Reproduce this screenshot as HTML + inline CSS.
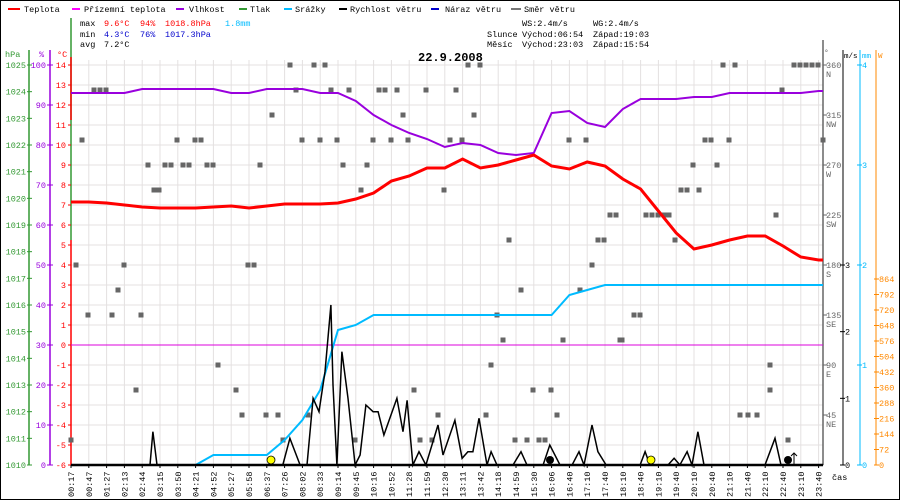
<!DOCTYPE html>
<html><head><meta charset="utf-8">
<style>
html,body{margin:0;padding:0;background:#fff;}
svg{display:block;font-family:"Liberation Mono","DejaVu Sans Mono",monospace;}
</style></head>
<body>
<svg id="chart" width="900" height="500" viewBox="0 0 900 500" xmlns="http://www.w3.org/2000/svg">
<rect x="0.5" y="0.5" width="899" height="499" fill="#fff" stroke="#000"/>
<g id="grid"></g>
<g id="legend" font-size="8.5">
 <line x1="8" y1="9" x2="20" y2="9" stroke="#f00" stroke-width="2"/><text x="24" y="12">Teplota</text>
 <line x1="72" y1="9" x2="80" y2="9" stroke="#f0f" stroke-width="2"/><text x="84" y="12">Přízemní teplota</text>
 <line x1="176" y1="9" x2="184" y2="9" stroke="#90d" stroke-width="2"/><text x="189" y="12">Vlhkost</text>
 <line x1="239" y1="9" x2="247" y2="9" stroke="#393" stroke-width="2"/><text x="250" y="12">Tlak</text>
 <line x1="284" y1="9" x2="292" y2="9" stroke="#0bf" stroke-width="2"/><text x="295" y="12">Srážky</text>
 <line x1="339" y1="9" x2="347" y2="9" stroke="#000" stroke-width="2"/><text x="350" y="12">Rychlost větru</text>
 <line x1="431" y1="9" x2="439" y2="9" stroke="#00c" stroke-width="2"/><text x="445" y="12">Náraz větru</text>
 <line x1="511" y1="9" x2="521" y2="9" stroke="#777" stroke-width="2"/><text x="524" y="12">Směr větru</text>
</g>
<g id="stats" font-size="8.5">
 <text x="80" y="26">max</text><text x="104" y="26" fill="#f00">9.6°C</text><text x="140" y="26" fill="#f00">94%</text><text x="165" y="26" fill="#f00">1018.8hPa</text><text x="225" y="26" fill="#0bf">1.8mm</text>
 <text x="80" y="37">min</text><text x="104" y="37" fill="#00c">4.3°C</text><text x="140" y="37" fill="#00c">76%</text><text x="165" y="37" fill="#00c">1017.3hPa</text>
 <text x="80" y="47">avg</text><text x="104" y="47">7.2°C</text>
 <text x="522" y="26">WS:2.4m/s</text><text x="593" y="26">WG:2.4m/s</text>
 <text x="487" y="37">Slunce</text><text x="522" y="37">Východ:06:54</text><text x="593" y="37">Západ:19:03</text>
 <text x="487" y="47">Měsíc</text><text x="522" y="47">Východ:23:03</text><text x="593" y="47">Západ:15:54</text>
</g>
<text x="418" y="61" font-size="12" font-weight="bold">22.9.2008</text>
<g id="axes"></g>
<g id="series"></g>
<g id="xlabels" font-size="8.5"></g>
</svg>
<script>
const timeLabels=["00:17","00:47","01:27","02:13","02:44","03:15","03:50","04:21","04:52","05:27","05:58","06:37","07:26","08:02","08:33","09:14","09:45","10:16","10:52","11:28","11:59","12:30","13:11","13:42","14:18","14:59","15:30","16:06","16:40","17:10","17:40","18:10","18:40","19:10","19:40","20:10","20:40","21:10","21:40","22:10","22:40","23:10","23:40"];
const temperature=[7.15,7.15,7.1,7.0,6.9,6.85,6.85,6.85,6.9,6.95,6.85,6.95,7.05,7.05,7.05,7.1,7.3,7.6,8.2,8.45,8.85,8.85,9.3,8.85,9.0,9.25,9.5,8.95,8.8,9.15,8.95,8.3,7.8,6.7,5.6,4.8,5.0,5.25,5.45,5.45,4.95,4.4,4.25];
const humidity=[93,93,93,93,94,94,94,94,94,93,93,94,94,94,93,93,91,87.5,85,83,81.5,79.5,80.5,80,78,77.5,78,88,88.5,85.5,84.5,89,91.5,91.5,91.5,92,92,93,93,93,93,93,93.5];
const precipitation=[0,0,0,0,0,0,0,0,0.1,0.1,0.1,0.1,0.25,0.45,0.75,1.35,1.4,1.5,1.5,1.5,1.5,1.5,1.5,1.5,1.5,1.5,1.5,1.5,1.7,1.75,1.8,1.8,1.8,1.8,1.8,1.8,1.8,1.8,1.8,1.8,1.8,1.8,1.8];
const windTime=[0,4.44,4.6,4.83,11.9,12.3,12.87,13.26,13.6,13.93,14.27,14.6,14.72,14.94,15.22,15.56,15.96,16.24,16.57,16.97,17.25,17.58,18.31,18.65,18.88,19.21,19.55,19.94,20.62,20.9,21.57,21.97,22.3,22.58,22.92,23.37,23.6,23.93,24.83,25.28,25.62,26.52,26.9,27.47,28.15,28.54,28.82,29.27,29.6,30.06,31.97,32.25,32.53,33.54,33.88,34.21,34.61,34.89,35.22,35.56,38.99,39.55,39.89,42.25];
const windSpeed=[0,0,0.5,0,0,0.4,0,0,1.0,0.8,1.4,2.4,1.2,0,1.7,1.0,0,0.15,0.9,0.8,0.8,0.45,1.0,0.5,0.97,0,0.2,0,0.6,0.15,0.67,0.1,0.2,0.2,0.7,0,0.2,0,0,0.2,0,0,0.3,0,0,0.2,0,0.6,0.2,0,0,0.2,0,0,0.1,0,0.2,0,0.5,0,0,0.4,0,0];
const dirX=[76,82,94,100,106,118,124,148,154,159,165,171,177,183,189,195,201,207,213,248,254,260,272,290,296,302,314,325,320,331,337,343,349,361,367,373,379,385,391,397,403,408,426,444,450,456,462,468,480,474,71,88,112,141,136,218,236,242,266,278,283,308,355,414,420,432,438,486,491,497,503,515,527,539,545,533,551,557,509,521,563,569,580,586,592,598,604,610,616,622,634,640,646,652,658,664,669,675,681,687,693,699,705,711,717,723,729,735,776,782,788,794,800,806,812,818,823,620,740,748,757,770,770];
const dirDeg=[180,292.5,337.5,337.5,337.5,157.5,180,270,247.5,247.5,270,270,292.5,270,270,292.5,292.5,270,270,180,180,270,315,360,337.5,292.5,360,360,292.5,337.5,292.5,270,337.5,247.5,270,292.5,337.5,337.5,292.5,337.5,315,292.5,337.5,247.5,292.5,337.5,292.5,360,360,315,22.5,135,135,135,67.5,90,67.5,45,45,45,22.5,45,22.5,67.5,22.5,22.5,45,45,90,135,112.5,22.5,22.5,22.5,22.5,67.5,67.5,45,202.5,157.5,112.5,292.5,157.5,292.5,180,202.5,202.5,225,225,112.5,135,135,225,225,225,225,225,202.5,247.5,247.5,270,247.5,292.5,292.5,270,360,292.5,360,225,337.5,22.5,360,360,360,360,360,292.5,112.5,45,45,45,67.5,90];
const hpaTicks=[1025,1024,1023,1022,1021,1020,1019,1018,1017,1016,1015,1014,1013,1012,1011,1010];
const pctTicks=[100,90,80,70,60,50,40,30,20,10,0];
const degTicks=[[360,"N"],[315,"NW"],[270,"W"],[225,"SW"],[180,"S"],[135,"SE"],[90,"E"],[45,"NE"]];
const wattTicks=[864,792,720,648,576,504,432,360,288,216,144,72,0];

const NS="http://www.w3.org/2000/svg";
const X0=71,STEP=17.8,YT=65,YB=465;
const xs=u=>X0+u*STEP;
const yT=t=>345-20*t;
const yH=h=>YB-(h/100)*400;
const yP=p=>YB+(YT-YB)*(p-1010)/15;
const yMM=m=>YB-100*m;
const yWS=v=>YB-66.67*v;
const yDeg=d=>YB-d/360*400;
const yW=w=>YB-w*(186/864);
function mk(tag,attrs,parent,txt){const e=document.createElementNS(NS,tag);for(const k in attrs)e.setAttribute(k,attrs[k]);if(txt!==undefined)e.textContent=txt;parent.appendChild(e);return e;}

const grid=document.getElementById('grid');
for(let t=-6;t<=14;t++){mk('line',{x1:X0,x2:823,y1:yT(t),y2:yT(t),stroke:'#e4e0e0'},grid);}
for(let i=0;i<timeLabels.length;i++){mk('line',{x1:xs(i),x2:xs(i),y1:YT-5,y2:YB,stroke:'#e4e0e0'},grid);}

const axes=document.getElementById('axes');
mk('line',{x1:29,x2:29,y1:50,y2:YB,stroke:'#393','stroke-width':1.5},axes);
mk('line',{x1:50,x2:50,y1:50,y2:YB,stroke:'#90d','stroke-width':1.5},axes);
mk('line',{x1:71,x2:71,y1:18,y2:240,stroke:'#393','stroke-width':1.5},axes);
mk('line',{x1:71,x2:71,y1:57,y2:120,stroke:'#f00','stroke-width':1.5},axes);
mk('line',{x1:71,x2:71,y1:240,y2:YB,stroke:'#f00','stroke-width':1.5},axes);
mk('text',{x:5,y:57,fill:'#393','font-size':8.5},axes,'hPa');
mk('text',{x:39,y:57,fill:'#90d','font-size':8.5},axes,'%');
mk('text',{x:57,y:57,fill:'#f00','font-size':8.5},axes,'°C');
hpaTicks.forEach(p=>{const y=yP(p);mk('line',{x1:27,x2:32,y1:y,y2:y,stroke:'#393'},axes);const t=mk('text',{x:26,y:y+3,fill:'#393','font-size':8.5,'text-anchor':'end'},axes,p);

});
pctTicks.forEach(p=>{const y=yH(p);mk('line',{x1:47,x2:53,y1:y,y2:y,stroke:'#90d'},axes);const t=mk('text',{x:46,y:y+3,fill:'#90d','font-size':8.5,'text-anchor':'end'},axes,p);

});
for(let c=-6;c<=14;c++){const y=yT(c);mk('line',{x1:68,x2:71,y1:y,y2:y,stroke:'#f00'},axes);const t=mk('text',{x:66,y:y+3,fill:'#f00','font-size':8.5,'text-anchor':'end'},axes,c);

}
mk('line',{x1:823,x2:823,y1:40,y2:YB,stroke:'#666','stroke-width':1.5},axes);
mk('line',{x1:843,x2:843,y1:50,y2:YB,stroke:'#000','stroke-width':1},axes);
mk('line',{x1:860,x2:860,y1:50,y2:YB,stroke:'#0bf','stroke-width':1},axes);
mk('line',{x1:876,x2:876,y1:50,y2:YB,stroke:'#f80','stroke-width':1},axes);
mk('text',{x:824,y:55,fill:'#666','font-size':8},axes,'°');
mk('text',{x:844,y:58,'font-size':7.5},axes,'m/s');
mk('text',{x:862,y:58,fill:'#0bf','font-size':7.5},axes,'mm');
mk('text',{x:878,y:58,fill:'#f80','font-size':7.5},axes,'W');
degTicks.forEach(d=>{const y=yDeg(d[0]);mk('line',{x1:823,x2:827,y1:y,y2:y,stroke:'#666'},axes);
const t=mk('text',{x:826,y:y+3,fill:'#666','font-size':8.5},axes,d[0]);


mk('text',{x:826,y:y+12,fill:'#666','font-size':8.5},axes,d[1]);});
[0,1,2,3].forEach(v=>{const y=yWS(v);mk('line',{x1:840,x2:845,y1:y,y2:y,stroke:'#000'},axes);const t=mk('text',{x:845,y:y+3,'font-size':8.5},axes,v);

});
[0,1,2,3,4].forEach(v=>{const y=yMM(v);mk('line',{x1:857,x2:862,y1:y,y2:y,stroke:'#0bf'},axes);const t=mk('text',{x:862,y:y+3,fill:'#0bf','font-size':8.5},axes,v);

});
wattTicks.forEach(v=>{const y=yW(v);mk('line',{x1:874,x2:879,y1:y,y2:y,stroke:'#f80'},axes);const t=mk('text',{x:879,y:y+3,fill:'#f80','font-size':8.5},axes,v);

});
mk('text',{x:832,y:480,'font-size':8.5},axes,'čas');

const ser=document.getElementById('series');
const g0=mk('line',{x1:X0,x2:823,y1:yT(0),y2:yT(0),stroke:'#d0d','stroke-width':1},ser);


dirX.forEach((x,i)=>{const r=mk('rect',{x:x-2.5,y:yDeg(dirDeg[i])-2.5,width:5,height:5,fill:'#666'},ser);

});
function poly(vals,yf,pos){return vals.map((v,i)=>xs(pos?pos[i]:i).toFixed(1)+','+yf(v).toFixed(1)).join(' ');}
const tPts=poly(temperature,yT)+' 823,'+yT(temperature[temperature.length-1]);
const hPts=poly(humidity,yH)+' 823,'+yH(humidity[humidity.length-1]);
const pPts=poly(precipitation,yMM)+' 823,'+yMM(precipitation[precipitation.length-1]);
const pl=mk('polyline',{points:pPts,fill:'none',stroke:'#0bf','stroke-width':2},ser);


const hl=mk('polyline',{points:hPts,fill:'none',stroke:'#90d','stroke-width':2},ser);


const tl=mk('polyline',{points:tPts,fill:'none',stroke:'#f00','stroke-width':3},ser);


mk('line',{x1:X0,x2:823,y1:YB,y2:YB,stroke:'#000','stroke-width':2.5},ser);
const wl=mk('polyline',{points:poly(windSpeed,yWS,windTime),fill:'none',stroke:'#000','stroke-width':1.5},ser);


[271,651].forEach(x=>{const c=mk('circle',{cx:x,cy:460,r:4,fill:'#ff0',stroke:'#000','stroke-width':0.8},ser);

});
[550,788].forEach(x=>{const c=mk('circle',{cx:x,cy:460,r:4,fill:'#000'},ser);

});
mk('path',{d:'M794,465 L794,453 M791,456 L794,453 L797,456',stroke:'#000',fill:'none'},ser);

const xl=document.getElementById('xlabels');
timeLabels.forEach((s,i)=>{const x=xs(i);mk('line',{x1:x,x2:x,y1:YB,y2:YB+3,stroke:'#000'},xl);
const t=mk('text',{x:0,y:0,transform:'translate('+(x+3)+',497) rotate(-90)'},xl,s);

});
</script>
</body></html>
